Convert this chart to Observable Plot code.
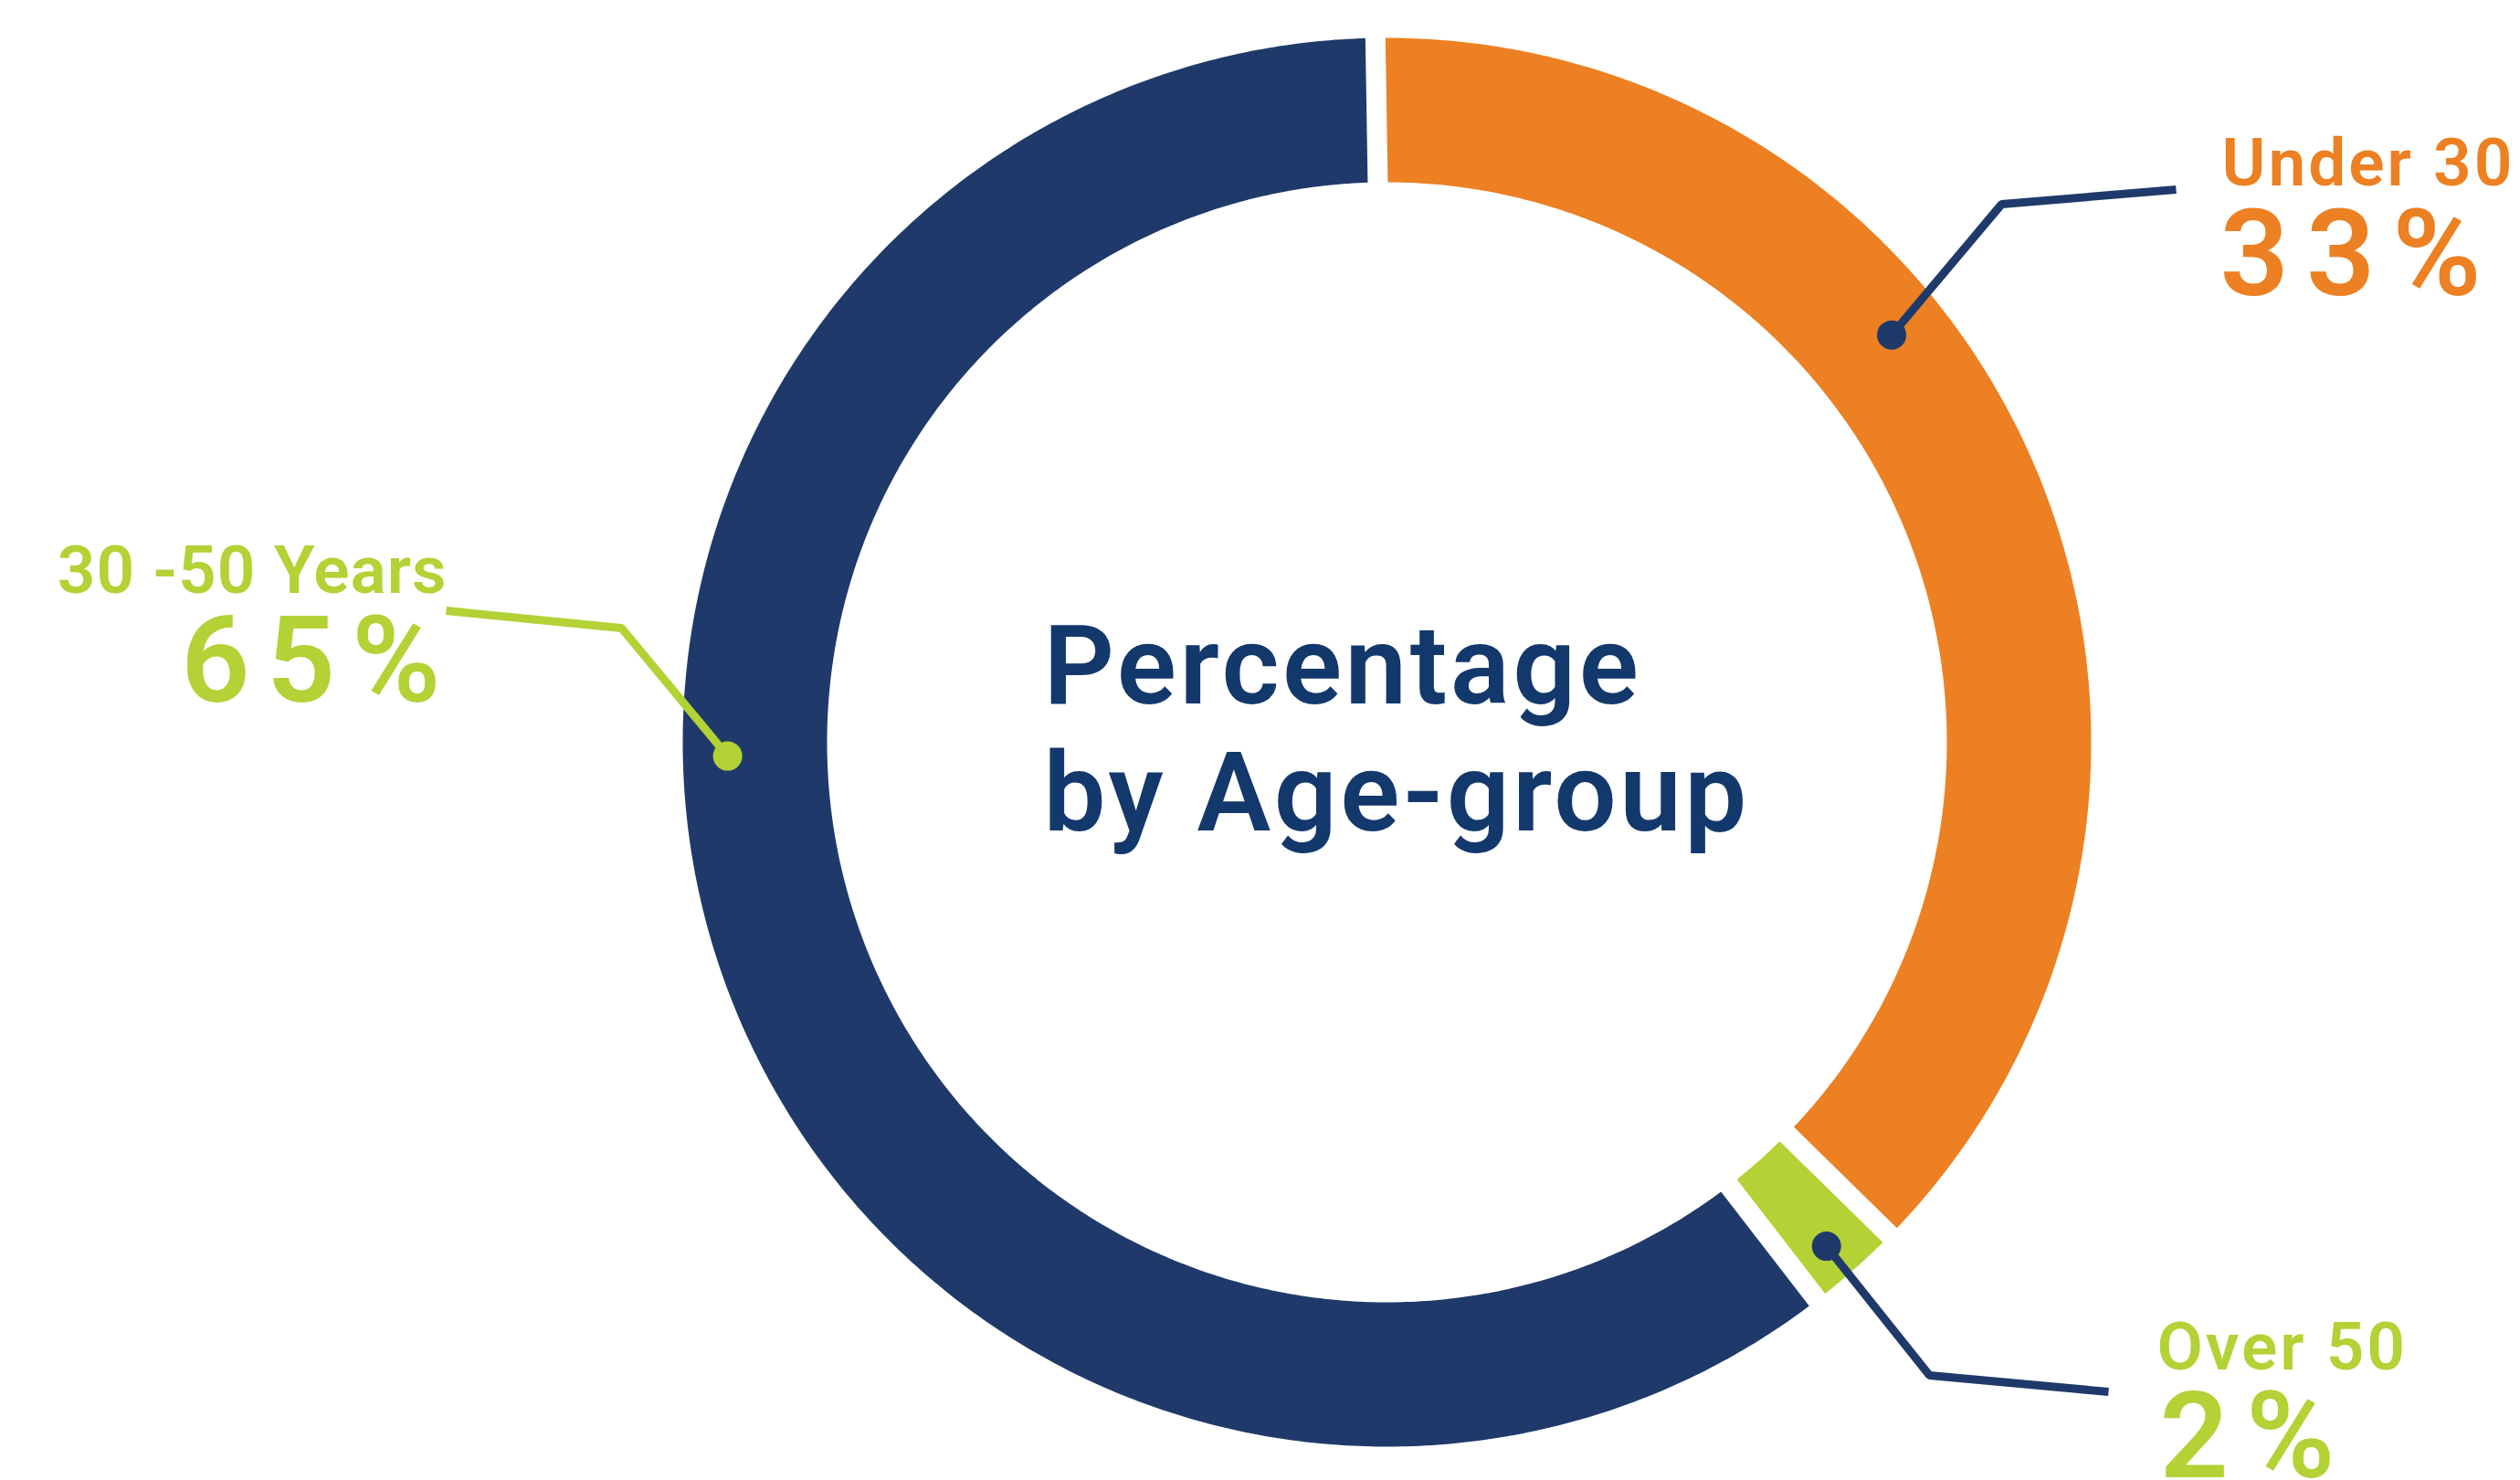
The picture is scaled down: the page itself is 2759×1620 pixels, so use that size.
<!DOCTYPE html>
<html>
<head>
<meta charset="utf-8">
<script src="https://cdn.jsdelivr.net/npm/d3@7"></script>
<script src="https://cdn.jsdelivr.net/npm/@observablehq/plot@0.6"></script>
<style>
  html, body { margin: 0; padding: 0; background: #ffffff; }
  #chart svg { display: block; }
  #chart g[text-anchor="start"][font-size="73"] text { letter-spacing: 3px; }
  #chart g[text-anchor="end"][font-size="73"] text { letter-spacing: 1px; }
  #chart g[text-anchor="start"][font-size="132"] text { letter-spacing: 19px; }
  #chart g[text-anchor="end"][font-size="132"] text { letter-spacing: 18px; }
  #chart g[font-size="121"] text { letter-spacing: 3.5px; }
</style>
</head>
<body>
<div id="chart"></div>
<script>
// ---- data ----
const groups = ["Under 30", "Over 50", "30 -50 Years"];
const percentLabels = ["33%", "2%", "65%"];
// share of the ring each slice occupies, as drawn in the reference
const ringShare = [37.6, 2.2, 60.2];
const titleLines = ["Percentage", "by Age-group"];

// ---- styles ----
const sliceColors = ["#ec8022", "#b2d235", "#1f3a6a"];
const labelColors = ["#ec8022", "#b2d235", "#b2d235"];
const leaderColors = ["#1f3a6a", "#1f3a6a", "#b2d235"];
const titleColor = "#13386c";
const FONT = "Roboto, 'Open Sans', sans-serif";

// ---- layout (pixel units relative to the ring centre) ----
const W = 2759, H = 1620;
const cx = 1518, cy = 812;
const R = 771, r0 = 613, pad = 11;
const startAngle = -0.94;

const rad = d => d * Math.PI / 180;
const polar = (rho, a) => ({x: rho * Math.sin(rad(a)), y: -rho * Math.cos(rad(a))});

// slice polygons from cumulative shares
const total = d3.sum(ringShare);
const ring = [];
let acc = startAngle;
ringShare.forEach((v, i) => {
  const a0 = acc, a1 = acc + v / total * 360;
  acc = a1;
  const ao = Math.asin(pad / R) * 180 / Math.PI;
  const ai = Math.asin(pad / r0) * 180 / Math.PI;
  const n = Math.max(8, Math.ceil((a1 - a0) * 2));
  for (let k = 0; k <= n; k++) {
    const a = a0 + ao + (a1 - a0 - 2 * ao) * k / n;
    ring.push({key: groups[i], i, ...polar(R, a)});
  }
  for (let k = 0; k <= n; k++) {
    const a = a1 - ai - (a1 - a0 - 2 * ai) * k / n;
    ring.push({key: groups[i], i, ...polar(r0, a)});
  }
});

// leader lines: dot anchored on the ring, elbow, end near the label
const leaderDot = [{a: 51.1, rho: 710}, {a: 138.9, rho: 732}, {a: 268.8, rho: 722}];
const leaderElbow = [[673, -589], [594, 693], [-838, -125]];
const leaderEnd = [[864, -605], [790, 711], [-1030, -144]];
const leaders = [];
const dots = [];
groups.forEach((g, i) => {
  const p = polar(leaderDot[i].rho, leaderDot[i].a);
  dots.push({key: g, i, ...p});
  leaders.push({key: g, i, ...p});
  leaders.push({key: g, i, x: leaderElbow[i][0], y: leaderElbow[i][1]});
  leaders.push({key: g, i, x: leaderEnd[i][0], y: leaderEnd[i][1]});
});

// label placement
const namePos = [[914, -610, "start"], [843, 686, "start"], [-1029, -164, "end"]];
const pctPos = [[912, -490, "start"], [846, 804, "start"], [-1018, -45, "end"]];
const names = groups.map((g, i) => ({text: g, i, x: namePos[i][0], y: namePos[i][1], anchor: namePos[i][2]}));
const pcts = percentLabels.map((t, i) => ({text: t, i, x: pctPos[i][0], y: pctPos[i][1], anchor: pctPos[i][2]}));
const titleRows = titleLines.map((t, k) => ({text: t, x: -376, y: k === 0 ? -43 : 96}));

const marks = [];
groups.forEach((g, i) => {
  marks.push(Plot.line(ring.filter(d => d.i === i), {x: "x", y: "y", fill: sliceColors[i], stroke: "none"}));
});
groups.forEach((g, i) => {
  marks.push(Plot.line(leaders.filter(d => d.i === i), {x: "x", y: "y", stroke: leaderColors[i], strokeWidth: 9, strokeLinejoin: "miter", strokeLinecap: "butt"}));
  marks.push(Plot.dot(dots.filter(d => d.i === i), {x: "x", y: "y", r: 16, fill: leaderColors[i], stroke: "none"}));
});
["start", "end"].forEach(anchor => {
  marks.push(Plot.text(names.filter(d => d.anchor === anchor), {
    x: "x", y: "y", text: "text", textAnchor: anchor, lineAnchor: "bottom",
    fill: d => labelColors[d.i], fontSize: 73, fontWeight: 600, fontFamily: FONT
  }));
  marks.push(Plot.text(pcts.filter(d => d.anchor === anchor), {
    x: "x", y: "y", text: "text", textAnchor: anchor, lineAnchor: "bottom",
    fill: d => labelColors[d.i], fontSize: 132, fontWeight: 600, fontFamily: FONT
  }));
});
marks.push(Plot.text(titleRows, {
  x: "x", y: "y", text: "text", textAnchor: "start", lineAnchor: "bottom",
  fill: titleColor, fontSize: 121, fontWeight: 600, fontFamily: FONT
}));

const chart = Plot.plot({
  width: W,
  height: H,
  margin: 0,
  style: {background: "#ffffff", overflow: "visible"},
  x: {domain: [-cx, W - cx], range: [0, W], axis: null},
  y: {domain: [-cy, H - cy], range: [0, H], axis: null},
  color: {type: "identity"},
  marks
});
document.getElementById("chart").appendChild(chart);
</script>
</body>
</html>
